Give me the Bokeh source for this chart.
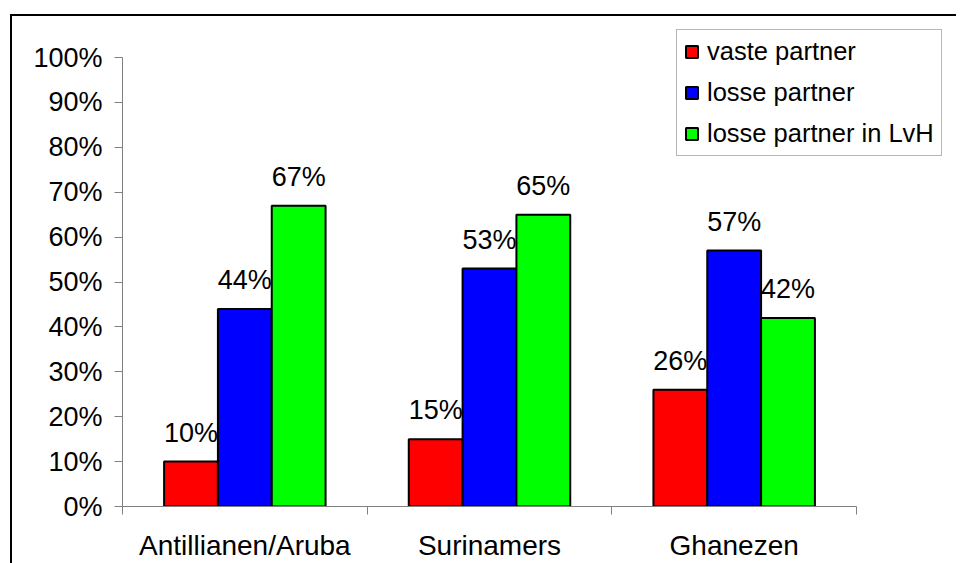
from bokeh.plotting import figure
from bokeh.models import (ColumnDataSource, Range1d, FixedTicker, PrintfTickFormatter,
                          Legend, LegendItem)
from bokeh.core.properties import value
from bokeh.embed import file_html
from bokeh.resources import INLINE

# --- data -------------------------------------------------------------
categories = ["Antillianen/Aruba", "Surinamers", "Ghanezen"]
series_names = ["vaste partner", "losse partner", "losse partner in LvH"]
vaste_partner = [10, 15, 26]
losse_partner = [44, 53, 57]
losse_partner_lvh = [67, 65, 42]
y_ticks = [0, 10, 20, 30, 40, 50, 60, 70, 80, 90, 100]

series_values = [vaste_partner, losse_partner, losse_partner_lvh]
colors = ["#FF0000", "#0000FF", "#00FF00"]
FONT = "Liberation Sans"
BAR_W = 0.22
AXIS_GREY = "#808080"

# The frame reaches up to the top and out to the right edge so the legend
# can sit in the upper right corner; axis lines are bounded to the data.
FRAME_W, FRAME_H = 834, 490
PX_PER_CAT = 244.67
PX_PER_PCT = 4.49
x_max = FRAME_W / PX_PER_CAT
y_max = FRAME_H / PX_PER_PCT

p = figure(frame_width=FRAME_W, frame_height=FRAME_H,
           output_backend="svg", toolbar_location=None,
           x_range=Range1d(0, x_max), y_range=Range1d(0, y_max),
           min_border_left=110, min_border_right=0,
           min_border_top=0, min_border_bottom=55)
p.margin = (14, 0, 0, 10)
p.styles = {"border-left": "2px solid black", "border-top": "2px solid black"}
p.xgrid.visible = False
p.ygrid.visible = False
p.outline_line_color = None
p.background_fill_color = "white"
p.border_fill_color = "white"

# grouped bars, each series followed by its value labels
centers = [i + 0.5 for i in range(len(categories))]
offsets = [-BAR_W, 0.0, BAR_W]
items = []
for name, vals, col, off in zip(series_names, series_values, colors, offsets):
    src = ColumnDataSource(dict(
        x=[c + off for c in centers],
        top=vals,
        label=[f"{v}%" for v in vals],
    ))
    r = p.vbar(x="x", top="top", bottom=0, width=BAR_W, source=src,
               fill_color=col, line_color="black", line_width=2)
    p.text(x="x", y="top", text="label", source=src,
           text_align="center", text_baseline="alphabetic", y_offset=-29,
           text_font=value(FONT), text_font_size="27px", text_color="black")
    items.append(LegendItem(label=name, renderers=[r]))

# x axis: category labels centred, ticks on the category boundaries
xa = p.xaxis[0]
xa.bounds = (0, len(categories))
xa.ticker = FixedTicker(ticks=centers, minor_ticks=list(range(len(categories) + 1)))
xa.major_label_overrides = {c: n for c, n in zip(centers, categories)}
xa.major_tick_out = 0
xa.major_tick_in = 0
xa.minor_tick_out = 8
xa.minor_tick_in = 0
xa.minor_tick_line_color = AXIS_GREY
xa.axis_line_color = AXIS_GREY
xa.major_label_standoff = 15
xa.major_label_text_font = FONT
xa.major_label_text_font_size = "28px"
xa.major_label_text_color = "black"

# y axis: percentages
ya = p.yaxis[0]
ya.bounds = (0, 100)
ya.ticker = FixedTicker(ticks=y_ticks, minor_ticks=[])
ya.formatter = PrintfTickFormatter(format="%d%%")
ya.major_tick_out = 8
ya.major_tick_in = 0
ya.major_tick_line_color = AXIS_GREY
ya.axis_line_color = AXIS_GREY
ya.major_label_standoff = 12
ya.major_label_text_font = FONT
ya.major_label_text_font_size = "27px"
ya.major_label_text_color = "black"

legend = Legend(items=items, location=(554, 350), orientation="vertical",
                margin=0, padding=7, spacing=12,
                glyph_width=15, glyph_height=15, label_standoff=8,
                label_text_font=FONT, label_text_font_size="25.5px",
                label_text_color="black",
                border_line_color="#707070", border_line_width=1.5,
                background_fill_color="white", background_fill_alpha=1.0)
p.add_layout(legend)

open("out.html", "w").write(file_html(p, INLINE))
